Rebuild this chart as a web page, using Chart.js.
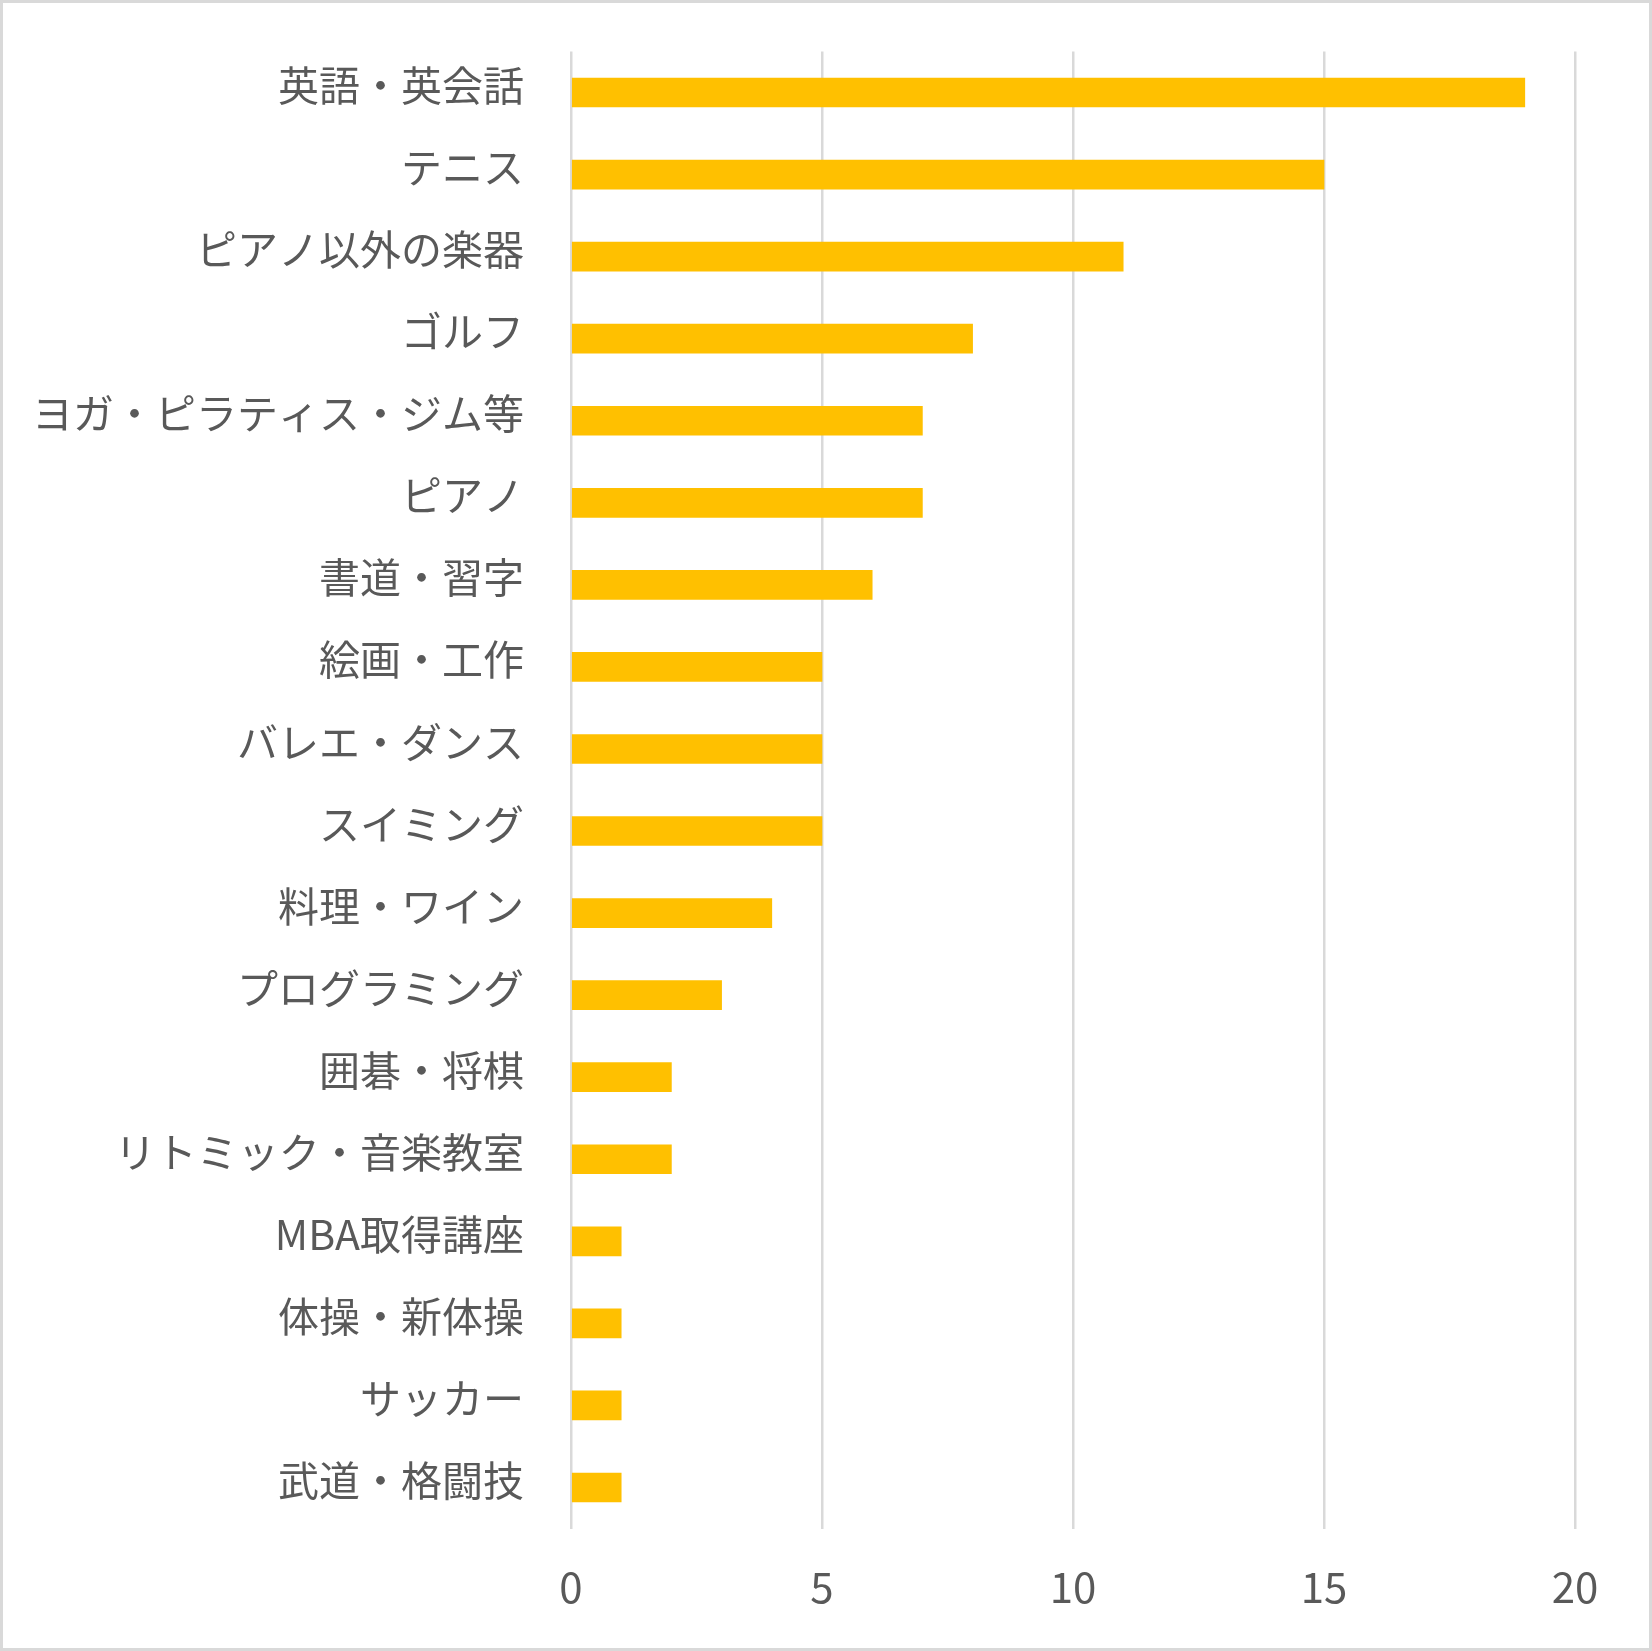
<!DOCTYPE html>
<html>
<head>
<meta charset="utf-8">
<script src="https://cdn.jsdelivr.net/npm/chart.js@4"></script>
<style>
  html, body { margin: 0; padding: 0; background: #fff; }
  #wrap { width: 1652px; height: 1651px; box-sizing: border-box; border: 3px solid #d9d9d9; background: #fff; }
  canvas { display: block; }
</style>
</head>
<body>
<div id="wrap"><canvas id="chart" width="1646" height="1645"></canvas></div>
<script>
const categories = [
  '英語・英会話', 'テニス', 'ピアノ以外の楽器', 'ゴルフ', 'ヨガ・ピラティス・ジム等',
  'ピアノ', '書道・習字', '絵画・工作', 'バレエ・ダンス', 'スイミング',
  '料理・ワイン', 'プログラミング', '囲碁・将棋', 'リトミック・音楽教室',
  'MBA取得講座', '体操・新体操', 'サッカー', '武道・格闘技'
];
const counts = [19, 15, 11, 8, 7, 7, 6, 5, 5, 5, 4, 3, 2, 2, 1, 1, 1, 1];
const xTicks = [0, 5, 10, 15, 20];

const FONT = '"Noto Sans CJK JP", "Noto Sans", sans-serif';
const TEXT = '#595959';
const GRID = '#d9d9d9';

new Chart(document.getElementById('chart'), {
  type: 'bar',
  data: {
    labels: categories,
    datasets: [{
      data: counts,
      backgroundColor: '#ffc000',
      borderWidth: 0,
      barThickness: 29
    }]
  },
  options: {
    indexAxis: 'y',
    responsive: false,
    devicePixelRatio: 1,
    animation: false,
    layout: { padding: { top: 48.5, right: 74, bottom: 0, left: 0 } },
    plugins: { legend: { display: false }, tooltip: { enabled: false } },
    scales: {
      x: {
        min: 0,
        max: 20,
        afterBuildTicks: (s) => { s.ticks = xTicks.map((v) => ({ value: v })); },
        afterFit: (s) => { s.height = 119.5; },
        grid: { color: GRID, lineWidth: 2.5, drawTicks: false },
        border: { display: false },
        ticks: { color: TEXT, padding: 33, font: { family: FONT, size: 42 } }
      },
      y: {
        afterFit: (s) => { s.width = 568; s.paddingTop = 0; s.paddingBottom = 0; },
        grid: { display: false, drawTicks: false },
        border: { display: false },
        ticks: { color: TEXT, padding: 47, labelOffset: -7, font: { family: FONT, size: 41 } }
      }
    }
  }
});
</script>
</body>
</html>
